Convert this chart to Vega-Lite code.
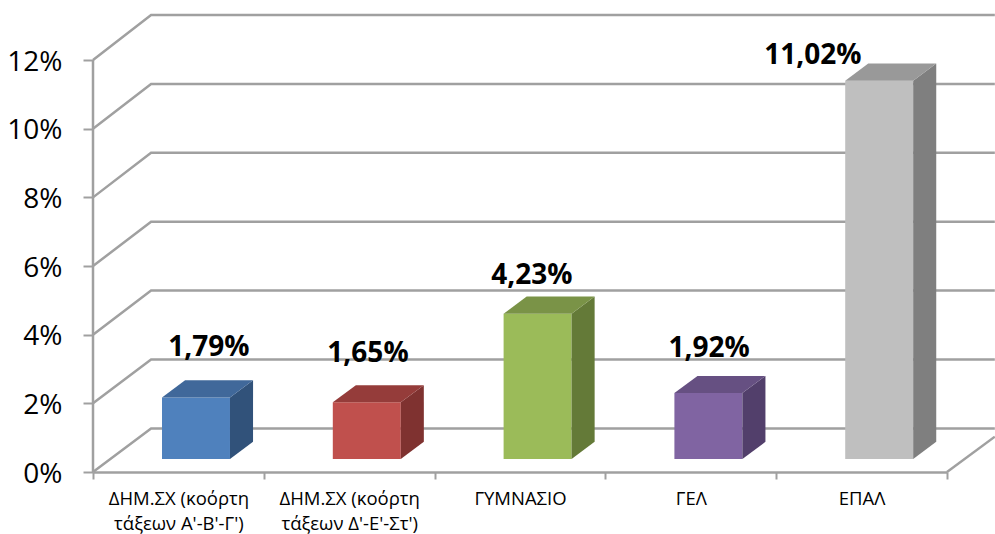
{
"$schema":"https://vega.github.io/schema/vega-lite/v6.json",
"width":854,"height":472,
"autosize":{"type":"none"},
"padding":{"left":93,"right":48,"top":0,"bottom":62},
"background":"white",
"config":{"view":{"stroke":null}},
"datasets":{
"bars":[
{"category":"ΔΗΜ.ΣΧ (κοόρτη τάξεων Α'-Β'-Γ')","value":1.79},
{"category":"ΔΗΜ.ΣΧ (κοόρτη τάξεων Δ'-Ε'-Στ')","value":1.65},
{"category":"ΓΥΜΝΑΣΙΟ","value":4.23},
{"category":"ΓΕΛ","value":1.92},
{"category":"ΕΠΑΛ","value":11.02}
],
"walls":[
{"line":"g0","pos":0,"level":0},{"line":"g0","pos":0.34,"level":1.27},{"line":"g0","pos":5.28,"level":1.27},
{"line":"g2","pos":0,"level":2},{"line":"g2","pos":0.34,"level":3.28},{"line":"g2","pos":5.28,"level":3.28},
{"line":"g4","pos":0,"level":4},{"line":"g4","pos":0.34,"level":5.29},{"line":"g4","pos":5.28,"level":5.29},
{"line":"g6","pos":0,"level":6},{"line":"g6","pos":0.34,"level":7.29},{"line":"g6","pos":5.28,"level":7.29},
{"line":"g8","pos":0,"level":8},{"line":"g8","pos":0.34,"level":9.3},{"line":"g8","pos":5.28,"level":9.3},
{"line":"g10","pos":0,"level":10},{"line":"g10","pos":0.34,"level":11.3},{"line":"g10","pos":5.28,"level":11.3},
{"line":"g12","pos":0,"level":12},{"line":"g12","pos":0.34,"level":13.31},{"line":"g12","pos":5.28,"level":13.31},
{"line":"axis","pos":0,"level":0},{"line":"axis","pos":0,"level":12},
{"line":"edge","pos":5,"level":0},{"line":"edge","pos":5.28,"level":1.03}
],
"sides":[
{"category":"a","pos":0.802,"low":0,"high":1.79},{"category":"a","pos":0.937,"low":0.5,"high":2.29},
{"category":"b","pos":1.802,"low":0,"high":1.65},{"category":"b","pos":1.937,"low":0.5,"high":2.15},
{"category":"c","pos":2.802,"low":0,"high":4.23},{"category":"c","pos":2.937,"low":0.5,"high":4.73},
{"category":"d","pos":3.802,"low":0,"high":1.92},{"category":"d","pos":3.937,"low":0.5,"high":2.42},
{"category":"e","pos":4.802,"low":0,"high":11.02},{"category":"e","pos":4.937,"low":0.5,"high":11.52}
],
"tops":[
{"category":"a","pos":0.404,"low":1.79,"high":1.79},{"category":"a","pos":0.539,"low":1.79,"high":2.29},{"category":"a","pos":0.802,"low":1.79,"high":2.29},{"category":"a","pos":0.937,"low":2.29,"high":2.29},
{"category":"b","pos":1.404,"low":1.65,"high":1.65},{"category":"b","pos":1.539,"low":1.65,"high":2.15},{"category":"b","pos":1.802,"low":1.65,"high":2.15},{"category":"b","pos":1.937,"low":2.15,"high":2.15},
{"category":"c","pos":2.404,"low":4.23,"high":4.23},{"category":"c","pos":2.539,"low":4.23,"high":4.73},{"category":"c","pos":2.802,"low":4.23,"high":4.73},{"category":"c","pos":2.937,"low":4.73,"high":4.73},
{"category":"d","pos":3.404,"low":1.92,"high":1.92},{"category":"d","pos":3.539,"low":1.92,"high":2.42},{"category":"d","pos":3.802,"low":1.92,"high":2.42},{"category":"d","pos":3.937,"low":2.42,"high":2.42},
{"category":"e","pos":4.404,"low":11.02,"high":11.02},{"category":"e","pos":4.539,"low":11.02,"high":11.52},{"category":"e","pos":4.802,"low":11.02,"high":11.52},{"category":"e","pos":4.937,"low":11.52,"high":11.52}
],
"fronts":[
{"category":"a","start":0.404,"end":0.802,"value":1.79},
{"category":"b","start":1.404,"end":1.802,"value":1.65},
{"category":"c","start":2.404,"end":2.802,"value":4.23},
{"category":"d","start":3.404,"end":3.802,"value":1.92},
{"category":"e","start":4.404,"end":4.802,"value":11.02}
],
"labels":[
{"label":"1,79%","pos":0.679,"level":3.62},
{"label":"1,65%","pos":1.61,"level":3.43},
{"label":"4,23%","pos":2.57,"level":5.71},
{"label":"1,92%","pos":3.607,"level":3.57},
{"label":"11,02%","pos":4.215,"level":12.12}
]
},
"resolve":{"scale":{"x":"independent","y":"independent","color":"independent"}},
"layer":[
{
"data":{"name":"bars"},
"mark":{"type":"bar","opacity":0},
"encoding":{
"x":{"field":"category","type":"nominal","sort":null,"title":null,"scale":{"paddingInner":0,"paddingOuter":0},
"axis":{"labelAngle":0,"labelFont":"Open Sans","labelFontSize":18.5,"labelColor":"#000","labelLimit":180,"labelPadding":10,"labelLineHeight":25,"labelBaseline":"top","tickBand":"extent","tickSize":7,"tickWidth":2,"tickColor":"#a0a0a0","domainColor":"#a0a0a0","domainWidth":2.5,"labelExpr":"split(replace(datum.label,' τάξεων','|τάξεων'),'|')"}},
"y":{"field":"value","type":"quantitative","axis":null,"scale":{"domain":[0,13.75]}}
}
},
{
"data":{"name":"walls"},
"mark":{"type":"line","color":"#a0a0a0","strokeWidth":2.5},
"encoding":{
"x":{"field":"pos","type":"quantitative","axis":null,"scale":{"domain":[0,5],"clamp":false}},
"y":{"field":"level","type":"quantitative","title":null,"scale":{"domain":[0,13.75]},
"axis":{"values":[0,2,4,6,8,10,12],"labelExpr":"datum.value+'%'","domain":false,"grid":false,"tickSize":10,"tickWidth":2,"tickColor":"#a0a0a0","labelFont":"Open Sans","labelFontSize":28,"labelColor":"#000","labelPadding":21,"labelOffset":2}},
"detail":{"field":"line"}
}
},
{
"data":{"name":"fronts"},
"mark":{"type":"bar"},
"encoding":{
"x":{"field":"start","type":"quantitative","axis":null,"scale":{"domain":[0,5]}},
"x2":{"field":"end"},
"y":{"field":"value","type":"quantitative","axis":null,"scale":{"domain":[-0.379,13.37]}},
"y2":{"datum":0},
"color":{"field":"category","type":"nominal","legend":null,"scale":{"domain":["a","b","c","d","e"],"range":["#4f81bd","#c0504d","#9bbb59","#8064a2","#bfbfbf"]}}
}
},
{
"data":{"name":"sides"},
"mark":{"type":"area"},
"encoding":{
"x":{"field":"pos","type":"quantitative","axis":null,"scale":{"domain":[0,5]}},
"y":{"field":"high","type":"quantitative","axis":null,"stack":null,"scale":{"domain":[-0.379,13.37]}},
"y2":{"field":"low"},
"color":{"field":"category","type":"nominal","legend":null,"scale":{"domain":["a","b","c","d","e"],"range":["#31527a","#7f3230","#647a38","#523f6b","#7f7f7f"]}}
}
},
{
"data":{"name":"tops"},
"mark":{"type":"area"},
"encoding":{
"x":{"field":"pos","type":"quantitative","axis":null,"scale":{"domain":[0,5]}},
"y":{"field":"high","type":"quantitative","axis":null,"stack":null,"scale":{"domain":[-0.379,13.37]}},
"y2":{"field":"low"},
"color":{"field":"category","type":"nominal","legend":null,"scale":{"domain":["a","b","c","d","e"],"range":["#40689a","#953c3a","#7a9347","#665082","#999999"]}}
}
},
{
"data":{"name":"labels"},
"mark":{"type":"text","font":"Open Sans","fontWeight":"bold","fontSize":28,"color":"#000"},
"encoding":{
"x":{"field":"pos","type":"quantitative","axis":null,"scale":{"domain":[0,5]}},
"y":{"field":"level","type":"quantitative","axis":null,"scale":{"domain":[0,13.75]}},
"text":{"field":"label"}
}
}
]
}
